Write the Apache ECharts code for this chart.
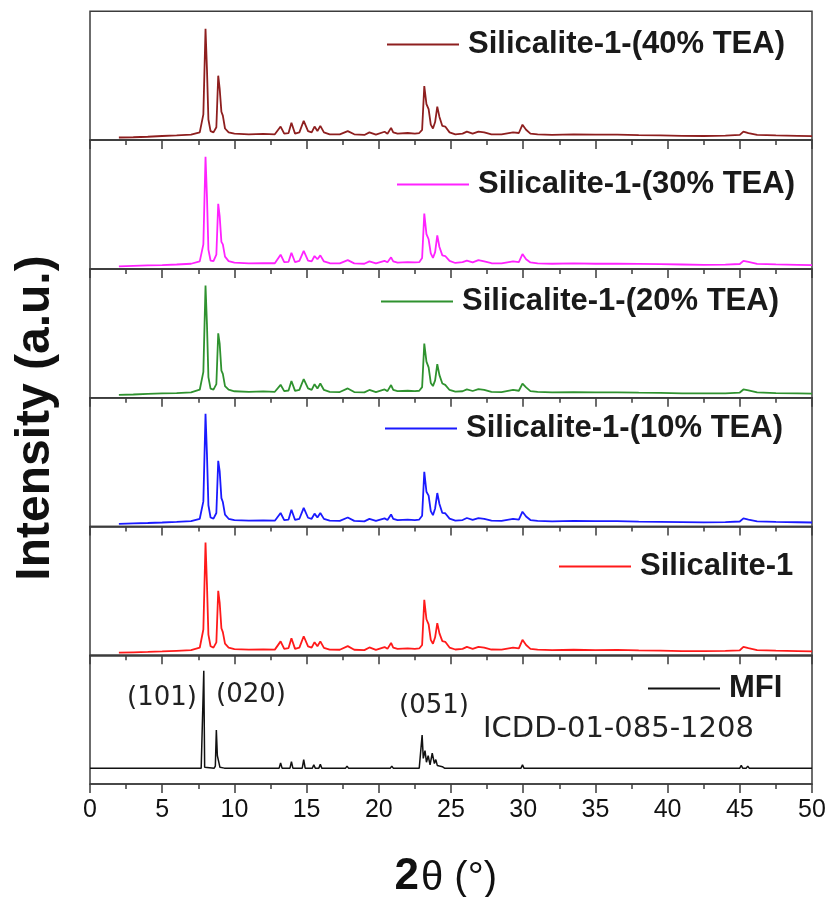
<!DOCTYPE html>
<html>
<head>
<meta charset="utf-8">
<script src="https://cdn.jsdelivr.net/npm/echarts@6/dist/echarts.min.js"></script>
<style>
  html, body { margin: 0; background: #fff; }
  #chart { width: 837px; height: 897px; }
</style>
</head>
<body>
<div id="chart"></div>
<script>
// 2θ positions shared by the five sample patterns
const twoTheta = [
  2.0, 3.0, 4.0, 5.0, 6.0, 7.0, 7.6, 7.85, 8.0, 8.1, 8.2, 8.35, 8.55, 8.75, 8.88, 8.98, 9.1, 9.2, 9.35, 9.6,
  10.0, 11.0, 12.0, 12.8, 13.2, 13.45, 13.75, 13.95, 14.2, 14.5, 14.8, 15.1, 15.35, 15.55, 15.75, 15.95, 16.2, 16.6, 17.3, 17.85,
  18.3, 19.0, 19.35, 19.8, 20.4, 20.6, 20.85, 21.0, 21.3, 22.0, 22.5, 22.8, 23.0, 23.15, 23.3, 23.45, 23.6, 23.75, 23.9, 24.05,
  24.2, 24.4, 24.6, 24.9, 25.3, 25.8, 26.1, 26.5, 26.9, 27.3, 27.8, 28.5, 29.3, 29.7, 29.95, 30.2, 30.5, 31.0, 32.0, 33.5,
  35.0, 36.5, 38.0, 39.5, 41.0, 42.5, 44.0, 45.0, 45.25, 45.6, 46.2, 47.5, 49.0, 50.0
]

// intensities (a.u., 0-100 within each panel)
const tea40 = [
  2.0, 2.2, 2.6, 3.2, 3.6, 4.2, 6.0, 20, 86.5, 55, 16, 7.0, 6.0, 10, 50, 40, 22, 19, 9.0, 6.0,
  5.0, 4.5, 4.8, 4.5, 10.5, 5.0, 5.5, 13.5, 5.0, 6.0, 15, 7.0, 6.0, 10.5, 7.0, 11, 6.0, 4.5, 4.5, 7.0,
  4.5, 4.0, 6.0, 4.2, 6.5, 5.0, 9.5, 6.0, 5.0, 5.5, 5.0, 5.5, 8.0, 42, 28, 24, 12, 9.0, 14, 26,
  18, 11, 10.5, 6.0, 4.5, 5.0, 6.6, 5.0, 6.6, 6.0, 4.5, 4.5, 6.0, 5.5, 12, 8.0, 5.0, 4.5, 4.0, 4.5,
  4.2, 4.3, 3.8, 3.6, 3.3, 3.2, 3.5, 4.0, 6.6, 5.5, 4.0, 3.6, 3.3, 3.1
]
const tea30 = [
  2.0, 2.4, 2.8, 3.0, 3.4, 4.0, 5.8, 19, 87, 56, 15, 6.5, 6.0, 11, 50.5, 41, 21, 19, 9.5, 6.0,
  4.8, 4.3, 4.5, 4.4, 11, 5.2, 5.5, 12.5, 5.2, 6.2, 14, 6.5, 5.8, 10, 7.5, 10.5, 5.8, 4.4, 4.3, 6.8,
  4.3, 4.0, 5.8, 4.3, 6.2, 5.2, 9.0, 5.8, 4.8, 5.2, 5.0, 5.2, 8.5, 43, 27, 23, 12, 8.5, 13, 26,
  17, 10.5, 10, 6.2, 4.6, 5.2, 6.4, 5.0, 6.8, 5.8, 4.4, 4.3, 5.8, 5.3, 11.5, 7.5, 5.0, 4.3, 4.0, 4.3,
  4.0, 4.1, 3.9, 3.7, 3.4, 3.1, 3.3, 3.8, 6.2, 5.4, 3.9, 3.5, 3.2, 3.0
]
const tea20 = [
  2.2, 2.5, 2.9, 3.3, 3.6, 4.1, 6.2, 20, 87, 57, 16, 7.0, 6.3, 10.5, 50, 42, 21, 18.5, 9.0, 6.2,
  5.0, 4.6, 4.9, 4.6, 10, 5.1, 5.6, 13, 5.3, 6.1, 14.5, 7.2, 6.1, 10.5, 7.2, 11, 6.0, 4.6, 4.4, 7.2,
  4.4, 4.1, 6.0, 4.4, 6.4, 5.1, 9.8, 6.0, 5.1, 5.4, 5.1, 5.4, 8.2, 42, 28, 23.5, 11.5, 9.0, 13.5, 26,
  17.5, 11, 10, 6.0, 4.7, 5.0, 6.5, 5.2, 6.7, 6.1, 4.6, 4.4, 6.1, 5.4, 11, 8.0, 5.1, 4.5, 4.1, 4.4,
  4.1, 4.2, 3.9, 3.7, 3.4, 3.3, 3.4, 4.0, 6.4, 5.6, 4.1, 3.6, 3.4, 3.2
]
const tea10 = [
  2.1, 2.4, 2.7, 3.1, 3.6, 4.2, 6.0, 19.5, 87.5, 56, 16.5, 7.0, 6.1, 10.5, 51, 43, 22, 19, 9.2, 6.0,
  4.9, 4.5, 4.7, 4.5, 10.5, 5.0, 5.4, 13, 5.1, 6.0, 14.5, 6.8, 6.0, 10, 7.0, 10.5, 5.9, 4.5, 4.4, 7.0,
  4.4, 4.0, 5.9, 4.3, 6.3, 5.0, 9.4, 5.9, 4.9, 5.3, 5.0, 5.4, 8.3, 42.5, 27, 24, 12, 8.8, 14, 26,
  17.5, 10.5, 10.3, 6.1, 4.6, 5.0, 6.6, 5.1, 6.5, 6.0, 4.5, 4.4, 5.9, 5.4, 11.5, 7.8, 5.0, 4.4, 4.0, 4.4,
  4.1, 4.2, 3.8, 3.6, 3.4, 3.2, 3.4, 3.9, 6.3, 5.3, 4.0, 3.6, 3.3, 3.1
]
const sil1 = [
  2.0, 2.3, 2.6, 3.0, 3.5, 4.0, 5.9, 20, 87.5, 55, 16, 7.0, 6.0, 10, 50, 41, 21, 18, 9.0, 6.0,
  4.8, 4.4, 4.6, 4.4, 10.8, 5.0, 5.6, 13.2, 5.0, 6.0, 14.8, 7.0, 6.0, 10.2, 7.0, 10.8, 5.8, 4.4, 4.3, 7.1,
  4.3, 4.0, 6.1, 4.2, 6.4, 5.0, 9.6, 6.0, 5.0, 5.4, 5.0, 5.3, 8.0, 43, 28, 24, 12, 9.0, 14, 25,
  17, 11, 10.5, 6.0, 4.5, 5.0, 6.5, 5.0, 6.6, 5.9, 4.5, 4.4, 6.0, 5.4, 12, 8.0, 5.0, 4.4, 4.0, 4.3,
  4.0, 4.2, 3.8, 3.6, 3.3, 3.2, 3.4, 3.9, 6.5, 5.5, 4.0, 3.6, 3.3, 3.1
]

// MFI reference pattern (ICDD-01-085-1208)
const mfiTheta = [
  0, 7.7, 7.82, 7.88, 7.94, 8.05,
  8.6, 8.68, 8.75, 8.82, 8.9, 9.0, 9.3,
  13.1, 13.2, 13.3, 13.85, 13.95, 14.05, 14.7, 14.8, 14.9,
  15.4, 15.5, 15.6, 15.85, 15.95, 16.05, 17.7, 17.8, 17.9,
  19.1, 19.2, 19.3, 20.3, 20.4, 20.5, 20.8, 20.9, 21.0,
  22.8, 22.93, 23.0, 23.08, 23.2, 23.3, 23.42, 23.55, 23.7, 23.85, 23.95, 24.05, 24.2, 24.4, 24.55,
  26.5, 26.6, 26.7, 27.0, 27.1, 27.2, 29.1, 29.2, 29.3, 29.85, 29.95, 30.05,
  35.0, 35.1, 35.2, 45.0, 45.1, 45.2, 45.45, 45.55, 45.65, 50
]
const mfiIntensity = [
  12.4, 12.4, 13, 88, 13, 12.4,
  12.4, 14, 42, 22, 18, 13, 12.4,
  12.4, 16.5, 12.4, 12.4, 17.5, 12.4, 12.4, 19, 12.4,
  12.4, 15, 12.4, 12.4, 15.5, 12.4, 12.4, 14, 12.4,
  12.4, 13.5, 12.4, 12.4, 13.5, 12.4, 12.4, 14, 12.4,
  12.4, 13.5, 38, 20, 26, 17, 22, 15, 24, 16, 19, 14.5, 14, 13.5, 12.4,
  12.4, 13.5, 12.4, 12.4, 13.5, 12.4, 12.4, 13.5, 12.4, 12.4, 15, 12.4,
  12.4, 13, 12.4, 12.4, 14.5, 12.4, 12.4, 14, 12.4, 12.4
]

const xTicks = [0, 5, 10, 15, 20, 25, 30, 35, 40, 45, 50]

const names = [
  'Silicalite-1-(40% TEA)', 'Silicalite-1-(30% TEA)', 'Silicalite-1-(20% TEA)',
  'Silicalite-1-(10% TEA)', 'Silicalite-1', 'MFI'
]
const colors = ['#8e1f1f', '#ff22ff', '#2f922f', '#1a1aff', '#ff1a1a', '#111111']
const xs = [twoTheta, twoTheta, twoTheta, twoTheta, twoTheta, mfiTheta]
const ys = [tea40, tea30, tea20, tea10, sil1, mfiIntensity]
// legend line left edge / vertical centre (px)
const legendAt = [[387, 43], [397, 183], [381, 300], [385, 427], [559, 565], [648, 687]]

const TOP = 11.3
const H = 128.8
const AXIS = '#3c3c3c'

const grid = [], xAxis = [], yAxis = [], series = [], legend = []
names.forEach((name, i) => {
  grid.push({
    left: 90, right: 25, top: TOP + i * H, height: H,
    show: true, borderColor: AXIS, borderWidth: 1.5, backgroundColor: 'transparent'
  })
  xAxis.push({
    gridIndex: i, type: 'value', min: xTicks[0], max: xTicks[xTicks.length - 1], interval: 5,
    axisLine: { show: true, onZero: false, lineStyle: { color: AXIS, width: 1.5 } },
    axisTick: { show: true, length: 9, lineStyle: { color: AXIS, width: 1.5 } },
    minorTick: { show: true, splitNumber: 2, length: 5, lineStyle: { color: AXIS, width: 1.5 } },
    splitLine: { show: false },
    axisLabel: {
      show: i === names.length - 1, margin: 14,
      fontSize: 25, color: '#111', fontFamily: 'Liberation Sans'
    }
  })
  yAxis.push({ gridIndex: i, type: 'value', min: 0, max: 100, show: false })
  series.push({
    name, type: 'line', xAxisIndex: i, yAxisIndex: i,
    data: xs[i].map((t, k) => [t, ys[i][k]]),
    showSymbol: false, symbol: 'none',
    lineStyle: { color: colors[i], width: i === 5 ? 1.5 : 1.8 },
    itemStyle: { color: colors[i] }
  })
  legend.push({
    data: [name], left: legendAt[i][0], top: legendAt[i][1] - 14, padding: 0,
    icon: 'rect', itemWidth: 72, itemHeight: 2, selectedMode: false,
    textStyle: {
      fontSize: 31, fontWeight: 'bold', fontFamily: 'Liberation Sans',
      color: '#1a1a1a', padding: [0, 0, 0, 4]
    }
  })
})

const chart = echarts.init(document.getElementById('chart'))
chart.setOption({
  animation: false,
  backgroundColor: '#fff',
  grid, xAxis, yAxis, series, legend,
  graphic: [
    {
      type: 'text', x: 36, y: 418, rotation: Math.PI / 2,
      style: {
        text: 'Intensity (a.u.)', font: 'bold 48px "Liberation Sans"', fill: '#111',
        align: 'center', verticalAlign: 'middle', textAlign: 'center', textVerticalAlign: 'middle'
      }
    },
    {
      type: 'text', x: 419, y: 877,
      style: {
        text: '2', font: 'bold 44px "Liberation Sans"', fill: '#111',
        align: 'right', verticalAlign: 'middle', textAlign: 'right', textVerticalAlign: 'middle'
      }
    },
    {
      type: 'text', x: 421, y: 879,
      style: {
        text: 'θ (°)', font: '40px "Liberation Sans"', fill: '#111',
        align: 'left', verticalAlign: 'middle', textAlign: 'left', textVerticalAlign: 'middle'
      }
    },
    {
      type: 'text', x: 127, y: 698,
      style: { text: '(101)', font: '26px "DejaVu Sans"', fill: '#222', align: 'left', verticalAlign: 'middle', textAlign: 'left', textVerticalAlign: 'middle' }
    },
    {
      type: 'text', x: 216, y: 695,
      style: { text: '(020)', font: '26px "DejaVu Sans"', fill: '#222', align: 'left', verticalAlign: 'middle', textAlign: 'left', textVerticalAlign: 'middle' }
    },
    {
      type: 'text', x: 399, y: 706,
      style: { text: '(051)', font: '26px "DejaVu Sans"', fill: '#222', align: 'left', verticalAlign: 'middle', textAlign: 'left', textVerticalAlign: 'middle' }
    },
    {
      type: 'text', x: 483, y: 729,
      style: { text: 'ICDD-01-085-1208', font: '29px "DejaVu Sans"', fill: '#222', align: 'left', verticalAlign: 'middle', textAlign: 'left', textVerticalAlign: 'middle' }
    }
  ]
})
</script>
</body>
</html>
